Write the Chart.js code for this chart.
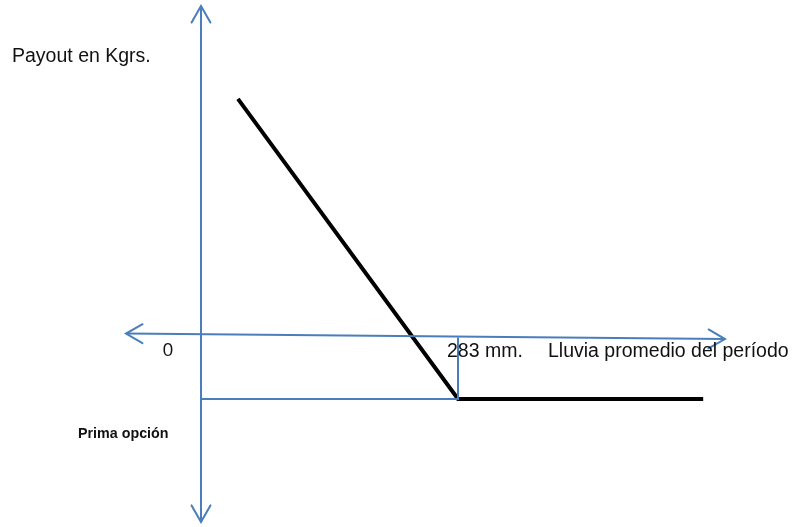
<!DOCTYPE html>
<html>
<head>
<meta charset="utf-8">
<script src="https://cdn.jsdelivr.net/npm/chart.js@4/dist/chart.umd.min.js"></script>
<style>
html,body{margin:0;padding:0;background:#fff;}
#wrap{position:relative;width:799px;height:527px;}
</style>
</head>
<body>
<div id="wrap"><canvas id="c"></canvas></div>
<script>
// Rainfall (mm) on x, payout (Kgrs, schematic units) on y
const strike = 283;              // mm
const premium = -100;            // option premium level (schematic)
const payoffX = [40.7, 283, 553];
const payoffY = [369, -100, -100];
const guideX = [0, 283, 283];
const guideY = [-100, -100, -4];
const yAxisX = [0, 0];
const yAxisY = [514, -292];
const xAxisX = [-82.6, 577];
const xAxisY = [2.3, -6.3];
const labels = {
  yTitle: "Payout en Kgrs.",
  zero: "0",
  strike: "283 mm.",
  xTitle: "Lluvia promedio del período",
  premium: "Prima opción"
};

const blue = "#4a7ebb";
const pts = (xs, ys) => xs.map((x, i) => ({x, y: ys[i]}));

const arrowPlugin = {
  id: "arrows",
  afterDatasetsDraw(chart) {
    const ctx = chart.ctx;
    chart.data.datasets.forEach((ds, i) => {
      if (!ds.arrows) return;
      const meta = chart.getDatasetMeta(i);
      const p = meta.data;
      const ends = [[p[0], p[1]], [p[p.length - 1], p[p.length - 2]]];
      ctx.save();
      ctx.strokeStyle = ds.borderColor;
      ctx.lineWidth = ds.borderWidth;
      ctx.lineCap = "round";
      ends.forEach(([tip, prev]) => {
        const a = Math.atan2(tip.y - prev.y, tip.x - prev.x);
        const L = 19, ang = 0.52;
        ctx.beginPath();
        ctx.moveTo(tip.x - L * Math.cos(a - ang), tip.y - L * Math.sin(a - ang));
        ctx.lineTo(tip.x, tip.y);
        ctx.lineTo(tip.x - L * Math.cos(a + ang), tip.y - L * Math.sin(a + ang));
        ctx.stroke();
      });
      ctx.restore();
    });
  }
};

const textPlugin = {
  id: "texts",
  afterDraw(chart) {
    const ctx = chart.ctx;
    const xs = chart.scales.x;
    ctx.save();
    ctx.fillStyle = "#111";
    ctx.textBaseline = "alphabetic";
    ctx.font = "19.5px 'Liberation Sans', Arial, sans-serif";
    ctx.textAlign = "left";
    ctx.fillText(labels.yTitle, 12, 62);
    const sx = xs.getPixelForValue(strike);
    ctx.fillText(labels.strike, sx - 11, 357);
    ctx.fillText(labels.xTitle, 548, 357);
    ctx.font = "19px 'Open Sans', sans-serif";
    ctx.textAlign = "center";
    ctx.fillText(labels.zero, 168, 356);
    ctx.font = "bold 14.3px 'Liberation Sans', Arial, sans-serif";
    ctx.textAlign = "left";
    ctx.fillText(labels.premium, 78, 437.5);
    ctx.restore();
  }
};

new Chart(document.getElementById("c"), {
  type: "scatter",
  data: {
    datasets: [
      {data: pts(yAxisX, yAxisY), showLine: true, borderColor: blue, borderWidth: 2, pointRadius: 0, arrows: true},
      {data: pts(xAxisX, xAxisY), showLine: true, borderColor: blue, borderWidth: 2, pointRadius: 0, arrows: true},
      {data: pts(guideX, guideY), showLine: true, borderColor: blue, borderWidth: 2, pointRadius: 0},
      {data: pts(payoffX, payoffY), showLine: true, borderColor: "#000", borderWidth: 4, pointRadius: 0, borderJoinStyle: "miter"}
    ]
  },
  options: {
    responsive: true,
    maintainAspectRatio: false,
    animation: false,
    layout: {padding: 0},
    plugins: {legend: {display: false}, tooltip: {enabled: false}},
    scales: {
      x: {type: "linear", display: false, min: -221.33, max: 658.49},
      y: {type: "linear", display: false, min: -300, max: 523.44}
    }
  },
  plugins: [arrowPlugin, textPlugin]
});
</script>
</body>
</html>
